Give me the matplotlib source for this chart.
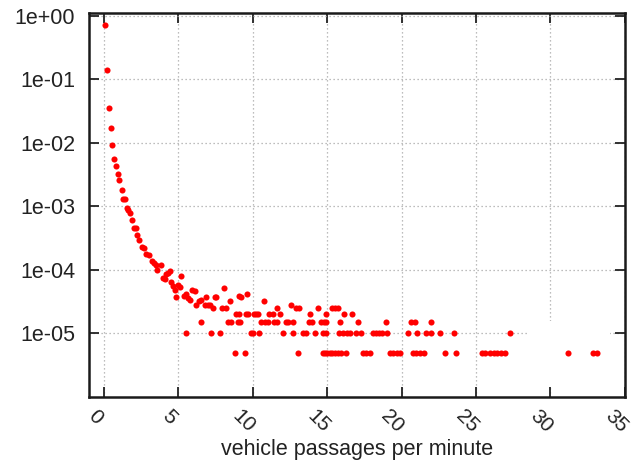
import matplotlib.pyplot as plt
from matplotlib.patches import Rectangle
from matplotlib.ticker import FixedLocator, FuncFormatter, NullLocator
from matplotlib.transforms import ScaledTranslation

plt.rcParams['font.family'] = ['Liberation Sans', 'DejaVu Sans']

# steep part of the distribution, read point by point
head_x = [0.09, 0.23, 0.36, 0.48, 0.56, 0.68, 0.81, 0.92, 1.03, 1.19,
          1.30, 1.41, 1.52, 1.63, 1.75, 1.86, 2.01, 2.15, 2.24, 2.37,
          2.53, 2.68, 2.86, 3.02, 3.20, 3.37, 3.47, 3.60, 3.87, 3.98,
          4.09, 4.20, 4.31, 4.47, 4.54, 4.65, 4.76, 4.83, 4.98, 5.09,
          5.21, 5.36, 5.50, 5.65, 5.81, 5.94, 6.10, 6.16, 6.39, 6.54,
          6.77, 6.88, 6.99, 7.10, 7.44, 7.55, 8.10, 8.49, 9.11, 9.22,
          9.62, 10.78, 12.57]
head_p = [0.72, 0.14, 0.035, 0.017, 0.0093, 0.0056, 0.0043, 0.0032, 0.0026, 0.0018,
          0.0013, 0.00129, 9.5e-4, 8.7e-4, 7.9e-4, 6.2e-4, 4.6e-4, 4.6e-4, 3.6e-4, 3.0e-4,
          2.3e-4, 2.2e-4, 1.8e-4, 1.7e-4, 1.4e-4, 1.3e-4, 1.2e-4, 1.0e-4, 1.2e-4, 7.6e-5,
          7.1e-5, 8.5e-5, 8.9e-5, 9.5e-5, 6.5e-5, 5.5e-5, 4.9e-5, 3.7e-5, 5.9e-5, 5.4e-5,
          7.9e-5, 3.9e-5, 4.2e-5, 3.6e-5, 3.4e-5, 4.9e-5, 4.6e-5, 2.8e-5, 3.2e-5, 3.4e-5,
          2.8e-5, 3.7e-5, 2.8e-5, 2.8e-5, 3.7e-5, 3.7e-5, 5.2e-5, 3.2e-5, 3.9e-5, 3.7e-5,
          4.2e-5, 3.2e-5, 2.8e-5]

# tail: rare rates sit on a few fixed levels
x_at_5e6 = [8.8, 9.5, 13.05, 14.7, 14.85, 15.0, 15.2, 15.35, 15.5, 15.7, 15.9,
            16.25, 17.4, 17.6, 17.85, 19.25, 19.45, 19.7, 19.9, 20.75, 20.95,
            21.25, 21.5, 22.9, 23.65, 25.4, 25.6, 25.95, 26.2, 26.4, 26.7,
            26.95, 31.2, 32.85, 33.1]
x_at_1e5 = [5.55, 7.2, 7.8, 9.85, 10.0, 10.4, 12.05, 12.7, 13.4, 13.6, 14.15,
            14.7, 14.9, 15.8, 16.05, 16.35, 16.5, 16.95, 17.25, 18.05, 18.25,
            18.45, 18.65, 19.05, 20.4, 21.05, 21.65, 21.95, 22.6, 23.5, 27.3]
x_at_1_5e5 = [6.5, 8.35, 8.55, 9.0, 9.15, 10.55, 10.8, 11.0, 11.45, 11.6, 12.25,
              12.4, 12.7, 13.75, 13.95, 14.6, 14.8, 14.95, 15.85, 17.05, 18.95,
              20.6, 20.9, 21.95]
x_at_2e5 = [8.9, 9.1, 9.55, 9.7, 10.1, 10.25, 10.35, 11.1, 11.35, 11.85, 13.85,
            14.95, 16.1, 16.7]
x_at_2_5e5 = [7.3, 7.95, 8.2, 11.65, 12.9, 13.1, 14.35, 15.3, 15.55, 15.75]
tail_levels = [5e-6, 1e-5, 1.5e-5, 2e-5, 2.5e-5]
tail_xs = [x_at_5e6, x_at_1e5, x_at_1_5e5, x_at_2e5, x_at_2_5e5]

xticks = [0, 5, 10, 15, 20, 25, 30, 35]
yticks = [1, 1e-1, 1e-2, 1e-3, 1e-4, 1e-5]

fig = plt.figure(figsize=(6.32, 4.68), dpi=100)
ax = fig.add_axes([0.1408, 0.1517, 0.848, 0.8205])

dot = dict(linestyle='none', marker='o', ms=4.4, mew=0, color='#ff0000', zorder=3)
ax.plot(head_x, head_p, **dot)
for lev, xs in zip(tail_levels, tail_xs):
    ax.plot(xs, [lev] * len(xs), **dot)

ax.set_yscale('log')
ax.set_xlim(-1, 35)
ax.set_ylim(1e-6, 1.11)

ax.set_xticks(xticks)
ax.yaxis.set_major_locator(FixedLocator(yticks))
ax.yaxis.set_minor_locator(NullLocator())
ax.yaxis.set_major_formatter(FuncFormatter(lambda v, pos: '%.0e' % v))

ax.set_axisbelow(True)
ax.grid(True, color='#a8a8a8', linestyle=(0, (1, 2.2)), linewidth=0.9)
# blank box where the (empty) key sits, as in the original
ax.add_patch(Rectangle((0.817, 0.025), 0.155, 0.173, transform=ax.transAxes,
                       facecolor='white', edgecolor='none', zorder=1))

ax.tick_params(axis='both', direction='in', length=7, width=1.3, top=True,
               right=True, labelsize=15.5, colors='#222222')
ax.tick_params(axis='x', labelsize=15)
ax.tick_params(axis='y', pad=10)
ax.tick_params(axis='x', pad=7)
shift = ScaledTranslation(-6.5 / 72, 0, fig.dpi_scale_trans)
for lab in ax.get_xticklabels():
    lab.set_rotation(-45)
    lab.set_ha('center')
    lab.set_transform(lab.get_transform() + shift)
for s in ax.spines.values():
    s.set_linewidth(1.8)
    s.set_color('#1a1a1a')

ax.set_xlabel('vehicle passages per minute', fontsize=15.5, color='#222222',
              labelpad=2)

fig.savefig('out.png', dpi=100)
